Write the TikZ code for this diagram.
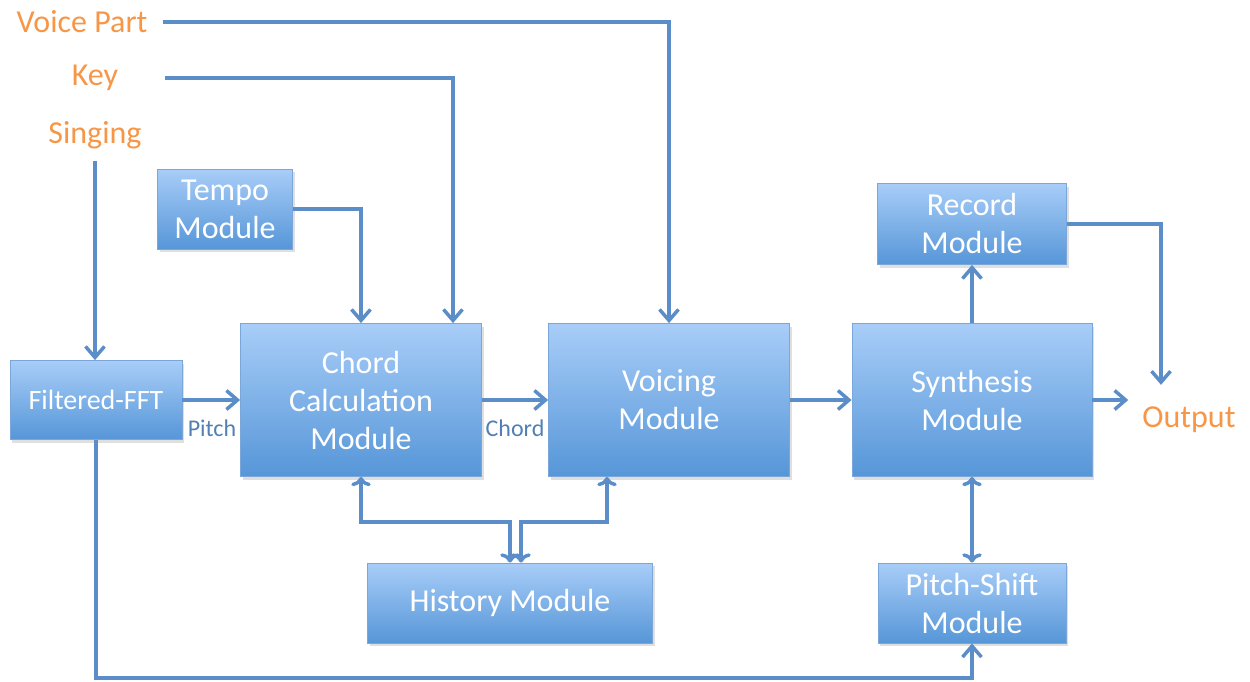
\documentclass[tikz,border=0pt]{standalone}
\usepackage{fontspec}
\setmainfont{Carlito}
\usetikzlibrary{arrows.meta,shadows}

\definecolor{boxtop}{HTML}{A8CDF8}
\definecolor{boxbot}{HTML}{5696D8}
\definecolor{boxedge}{HTML}{7AA6DA}
\definecolor{flowblue}{HTML}{5B8DC8}
\definecolor{inorange}{HTML}{F79646}

\tikzset{
  modbox/.style={draw=boxedge, line width=0.8pt, top color=boxtop, bottom color=boxbot,
    text=white, align=center, inner sep=0pt,
    font=\fontsize{32}{38}\selectfont,
    drop shadow={shadow xshift=2pt, shadow yshift=-3pt, opacity=0.25}},
  inlabel/.style={text=inorange, font=\fontsize{32}{38}\selectfont, inner sep=0pt},
  sublabel/.style={text=flowblue!90!black, font=\fontsize{24}{28}\selectfont, inner sep=0pt},
  flow/.style={draw=flowblue, line width=3.5pt, -{Straight Barb[length=11pt,width=19pt]}}
}

\begin{document}
\begin{tikzpicture}[x=1pt,y=-1pt]
\useasboundingbox (0,0) rectangle (1250,681);

% inputs and output
\node[inlabel] (voice) at (82,22) {Voice Part};
\node[inlabel] (key) at (95,78) {Key};
\node[inlabel] (singing) at (95,135) {Singing};
\node[inlabel] (output) at (1189,420) {Output};

% modules
\node[modbox, minimum width=172pt, minimum height=79pt, font=\fontsize{28}{34}\selectfont] (fft) at (96,400) {Filtered-FFT};
\node[modbox, minimum width=135pt, minimum height=80pt] (tempo) at (225,209) {Tempo\\Module};
\node[modbox, minimum width=241pt, minimum height=153pt] (chord) at (361,400) {Chord\\Calculation\\Module};
\node[modbox, minimum width=241pt, minimum height=153pt] (voicing) at (669,400) {Voicing\\Module};
\node[modbox, minimum width=240pt, minimum height=153pt] (synth) at (972,400) {Synthesis\\Module};
\node[modbox, minimum width=189pt, minimum height=81pt] (record) at (972,224) {Record\\Module};
\node[modbox, minimum width=285pt, minimum height=80pt] (hist) at (510,603) {History Module};
\node[modbox, minimum width=188pt, minimum height=80pt] (pshift) at (972,603) {Pitch-Shift\\Module};

\node[sublabel] (pitchlbl) at (212,428) {Pitch};
\node[sublabel] (chordlbl) at (515,428) {Chord};

% signal flow
\draw[flow] ([xshift=15pt]voice.east) -| (voicing.north);
\draw[flow] ([xshift=47pt]key.east) -| ([xshift=92pt]chord.north);
\draw[flow, shorten <=12pt] (singing.south) -- (singing.south |- fft.north);
\draw[flow] (tempo.east) -| (chord.north);
\draw[flow] (fft.east) -- (fft.east -| chord.west);
\draw[flow] (chord.east) -- (voicing.west);
\draw[flow] (voicing.east) -- (synth.west);
\draw[flow, shorten >=14pt] (synth.east) -- (synth.east -| output.west);
\draw[flow] (synth.north) -- (record.south);
\draw[flow, shorten >=22pt] (record.east) -| ([xshift=-28pt]output.north);
\draw[flow, <->] (synth.south) -- (pshift.north);
\draw[flow] (fft.south) -- ++(0,238) -| (pshift.south);

% history feedback
\draw[flow, <->] (chord.south) -- ++(0,45) -| (hist.north);
\draw[flow, <->] ([xshift=-62pt]voicing.south) -- ++(0,45) -| ([xshift=11pt]hist.north);
\end{tikzpicture}
\end{document}
